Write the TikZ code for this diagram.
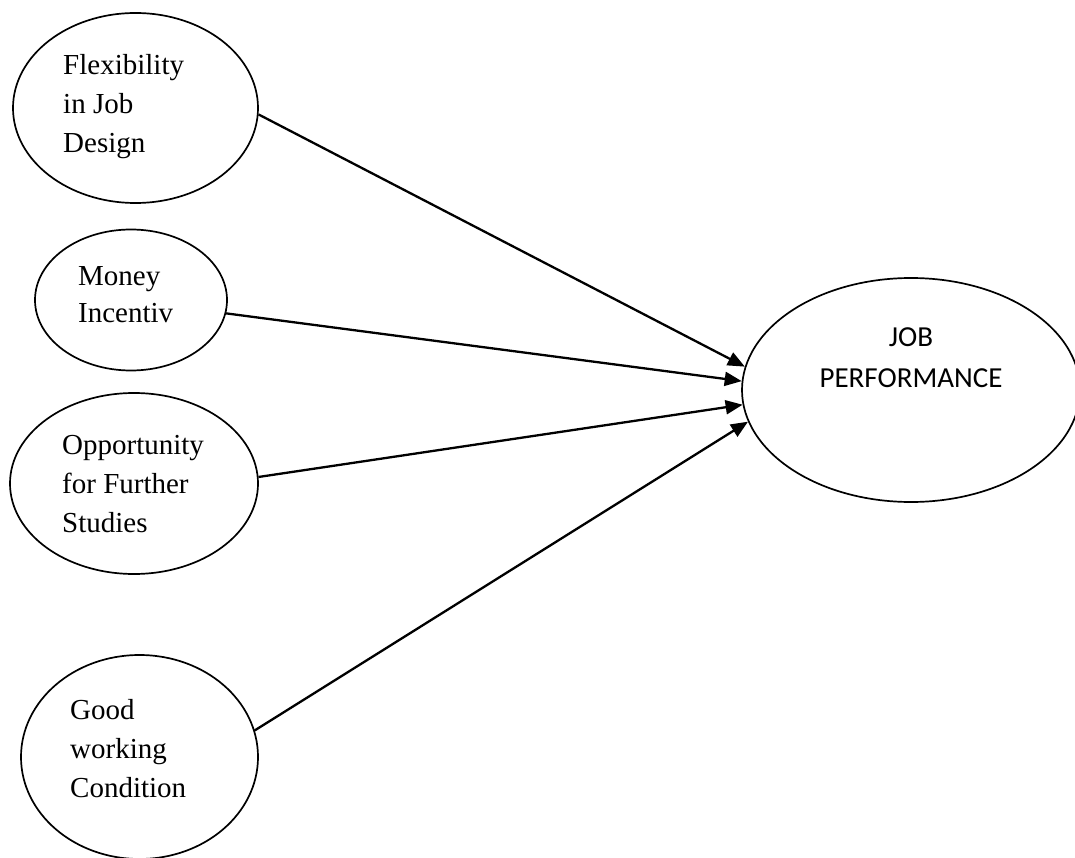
\documentclass[tikz,border=0pt]{standalone}
\usepackage{fontspec}
\setmainfont{Liberation Serif}
\newfontfamily\calibrifont{Carlito}
\usetikzlibrary{arrows.meta,shapes.geometric}
\begin{document}
\begin{tikzpicture}[x=1pt,y=-1pt,
  oval/.style={draw, ellipse, line width=1.7pt, inner sep=0pt},
  lbl/.style={font=\fontsize{29}{39}\selectfont, align=left, anchor=base west, inner sep=0pt},
  arr/.style={line width=2.3pt, -{Triangle[length=17pt,width=14pt]}}]
\useasboundingbox (0,0) rectangle (1075,858);
% ellipses
\node[oval, minimum width=245pt, minimum height=190pt] (flex) at (135.5,108) {};
\node[oval, minimum width=192pt, minimum height=141pt] (money) at (131,300) {};
\node[oval, minimum width=248pt, minimum height=181pt] (opp) at (134,483.5) {};
\node[oval, minimum width=237pt, minimum height=204pt] (good) at (139.5,757) {};
\node[oval, minimum width=338pt, minimum height=224pt] (job) at (911,390) {};
% texts (anchored at the baseline of the last line)
\node[lbl] (tflex) at (63,153) {Flexibility\\in Job\\Design};
\node[lbl, font=\fontsize{29}{37}\selectfont] (tmoney) at (78,323) {Money\\Incentiv};
\node[lbl] (topp) at (62,532) {Opportunity\\for Further\\Studies};
\node[lbl] (tgood) at (70,797) {Good\\working\\Condition};
\node[font=\calibrifont\fontsize{29}{41}\selectfont, align=center, anchor=base, inner sep=0pt] (tjob) at (911,387) {JOB\\PERFORMANCE};
% connectors
\draw[arr] (flex.-3) -- (job.172.4);
\draw[arr] (money.-8) -- (job.177.6);
\draw[arr] (opp.3) -- (job.185.8);
\draw[arr] (good.13.3) -- (job.191.5);
\end{tikzpicture}
\end{document}
